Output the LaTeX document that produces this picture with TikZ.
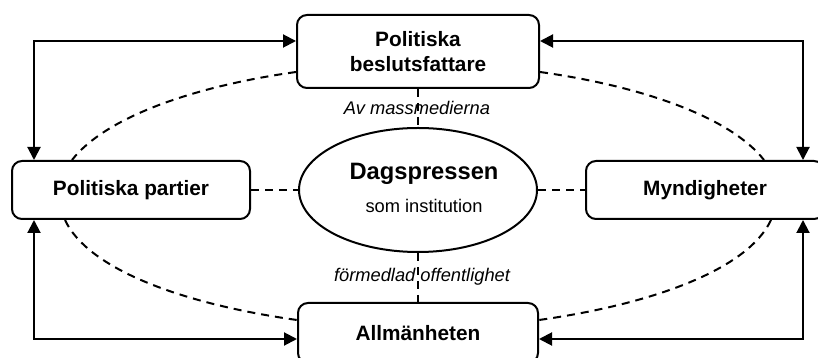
\documentclass[tikz,border=0pt]{standalone}
\usepackage{fontspec}
\setmainfont{Liberation Sans}
\usetikzlibrary{arrows.meta,shapes.geometric}

\begin{document}
\begin{tikzpicture}[x=1pt,y=1pt,>={Triangle[length=13pt,width=13pt]},line width=2pt,
    actor/.style={draw,fill=white,rounded corners=10pt,align=center,inner sep=0pt,
      font=\fontsize{20.8}{25}\selectfont\bfseries},
    link/.style={dash pattern=on 8pt off 6pt},
    note/.style={anchor=base,font=\fontsize{18.3}{22}\selectfont\itshape}]
      \useasboundingbox (0,0) rectangle (818,358);
      \clip (0,0) rectangle (818,358);
      % the four actors
        \node[actor,minimum width=242pt,minimum height=73pt] (top) at (418,306.5) {Politiska\\beslutsfattare};
        \node[actor,minimum width=238pt,minimum height=58pt] (left) at (131,168) {Politiska partier};
        \node[actor,minimum width=238pt,minimum height=58pt] (right) at (705,168) {Myndigheter};
        \node[actor,minimum width=240pt,minimum height=60pt] (bot) at (418,25) {Allmänheten};
      % the press in the middle
        \node[draw,ellipse,minimum width=238pt,minimum height=124pt,inner sep=0pt] (ell) at (418,168) {};
        \node[anchor=base,font=\fontsize{23.7}{28}\selectfont\bfseries] (dags) at (424,178) {Dagspressen};
        \node[anchor=base,font=\fontsize{18.3}{22}\selectfont] (inst) at (424,145) {som institution};
        \node[note] (av) at (417,243) {Av massmedierna};
        \node[note] (form) at (422,76) {förmedlad offentlighet};
      % dashed links
        \draw[link] (top.south) -- (ell.north);
        \draw[link] (ell.south) -- (bot.north);
        \draw[link] (left.east) -- (ell.west);
        \draw[link] (ell.east) -- (right.west);
        \draw[link] ([yshift=-20.5pt]top.west) to[out=188,in=52,out distance=109pt,in distance=52pt] ([xshift=-59pt]left.north);
        \draw[link] ([yshift=-20.5pt]top.east) to[out=-8,in=128,out distance=109pt,in distance=52pt] ([xshift=59pt]right.north);
        \draw[link] ([xshift=-66pt]left.south) to[out=-65,in=172,out distance=52pt,in distance=122pt] ([yshift=13pt]bot.west);
        \draw[link] ([xshift=66pt]right.south) to[out=245,in=8,out distance=52pt,in distance=122pt] ([yshift=13pt]bot.east);
      % arrows round the outside
        \coordinate (tl) at (34,317);
        \coordinate (tr) at (803,317);
        \coordinate (bl) at (34,19);
        \coordinate (br) at (803,19);
        \draw[<->] (left.north -| tl) -- (tl) -- (top.west |- tl);
        \draw[<->] (right.north -| tr) -- (tr) -- (top.east |- tr);
        \draw[<->] (left.south -| bl) -- (bl) -- (bot.west |- bl);
        \draw[<->] (right.south -| br) -- (br) -- (bot.east |- br);
      \end{tikzpicture}
\end{document}
